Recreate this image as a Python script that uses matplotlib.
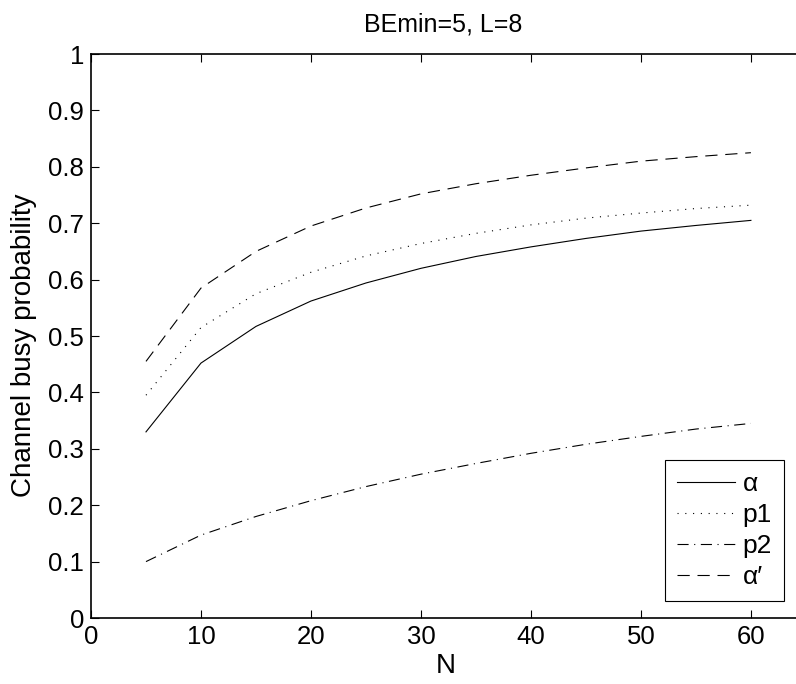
import matplotlib
matplotlib.use("Agg")
import matplotlib.pyplot as plt

plt.rcParams['font.family'] = ['Liberation Sans', 'DejaVu Sans']

N = [5, 10, 15, 20, 25, 30, 35, 40, 45, 50, 55, 60]
alpha = [0.330, 0.452, 0.517, 0.562, 0.594, 0.620, 0.641, 0.658, 0.673, 0.686, 0.696, 0.705]
p1 = [0.395, 0.515, 0.575, 0.613, 0.642, 0.664, 0.682, 0.697, 0.709, 0.718, 0.726, 0.732]
p2 = [0.100, 0.147, 0.180, 0.208, 0.233, 0.255, 0.274, 0.292, 0.308, 0.322, 0.335, 0.345]
alpha_p = [0.455, 0.585, 0.650, 0.695, 0.727, 0.752, 0.770, 0.785, 0.798, 0.810, 0.818, 0.825]

xticks = [0, 10, 20, 30, 40, 50, 60]
xticklabels = ['0', '10', '20', '30', '40', '50', '60']
yticks = [0, 0.1, 0.2, 0.3, 0.4, 0.5, 0.6, 0.7, 0.8, 0.9, 1]
yticklabels = ['0', '0.1', '0.2', '0.3', '0.4', '0.5', '0.6', '0.7', '0.8', '0.9', '1']

W, H = 796, 684
fig = plt.figure(figsize=(W / 100, H / 100), dpi=100)
# plot area goes to the right edge of the picture (cropped there)
left, right, top, bottom = 91, 796, 54, 618
ax = fig.add_axes([left / W, 1 - bottom / H, (right - left) / W, (bottom - top) / H])

lw = 0.8
ax.plot(N, alpha, color='black', lw=lw, ls='-', label='α')
ax.plot(N, p1, color='black', lw=lw, ls=(0, (1, 6)), label='p1')
ax.plot(N, p2, color='black', lw=lw, ls=(0, (10, 5, 1, 5)), label='p2')
ax.plot(N, alpha_p, color='black', lw=lw, ls=(0, (11, 7)), label='α′')

ax.set_xlim(0, 64.1)
ax.set_ylim(0, 1)
ax.set_xticks(xticks)
ax.set_xticklabels(xticklabels)
ax.set_yticks(yticks)
ax.set_yticklabels(yticklabels)
ax.tick_params(direction='in', top=True, right=False, length=6, width=0.8,
               labelsize=18.5, pad=5)
for s in ax.spines.values():
    s.set_linewidth(1.2)
ax.spines['right'].set_visible(False)

ax.set_xlabel('N', fontsize=20)
ax.xaxis.set_label_coords(0.503, -0.062)
ax.set_ylabel('Channel busy probability', fontsize=20)
ax.yaxis.set_label_coords(-(left - 37) / (right - left), 0.484)
ax.set_title('BEmin=5, L=8', fontsize=18, pad=16)

leg = ax.legend(loc='lower right',
                bbox_to_anchor=((784 - left) / (right - left), (bottom - 601) / (bottom - top)),
                fontsize=19, handlelength=2.2, handletextpad=0.3, borderpad=0.45,
                labelspacing=0.27, fancybox=False, framealpha=1, borderaxespad=0)
leg.get_frame().set_edgecolor('black')
leg.get_frame().set_linewidth(0.8)

fig.savefig('out.png', dpi=100)
